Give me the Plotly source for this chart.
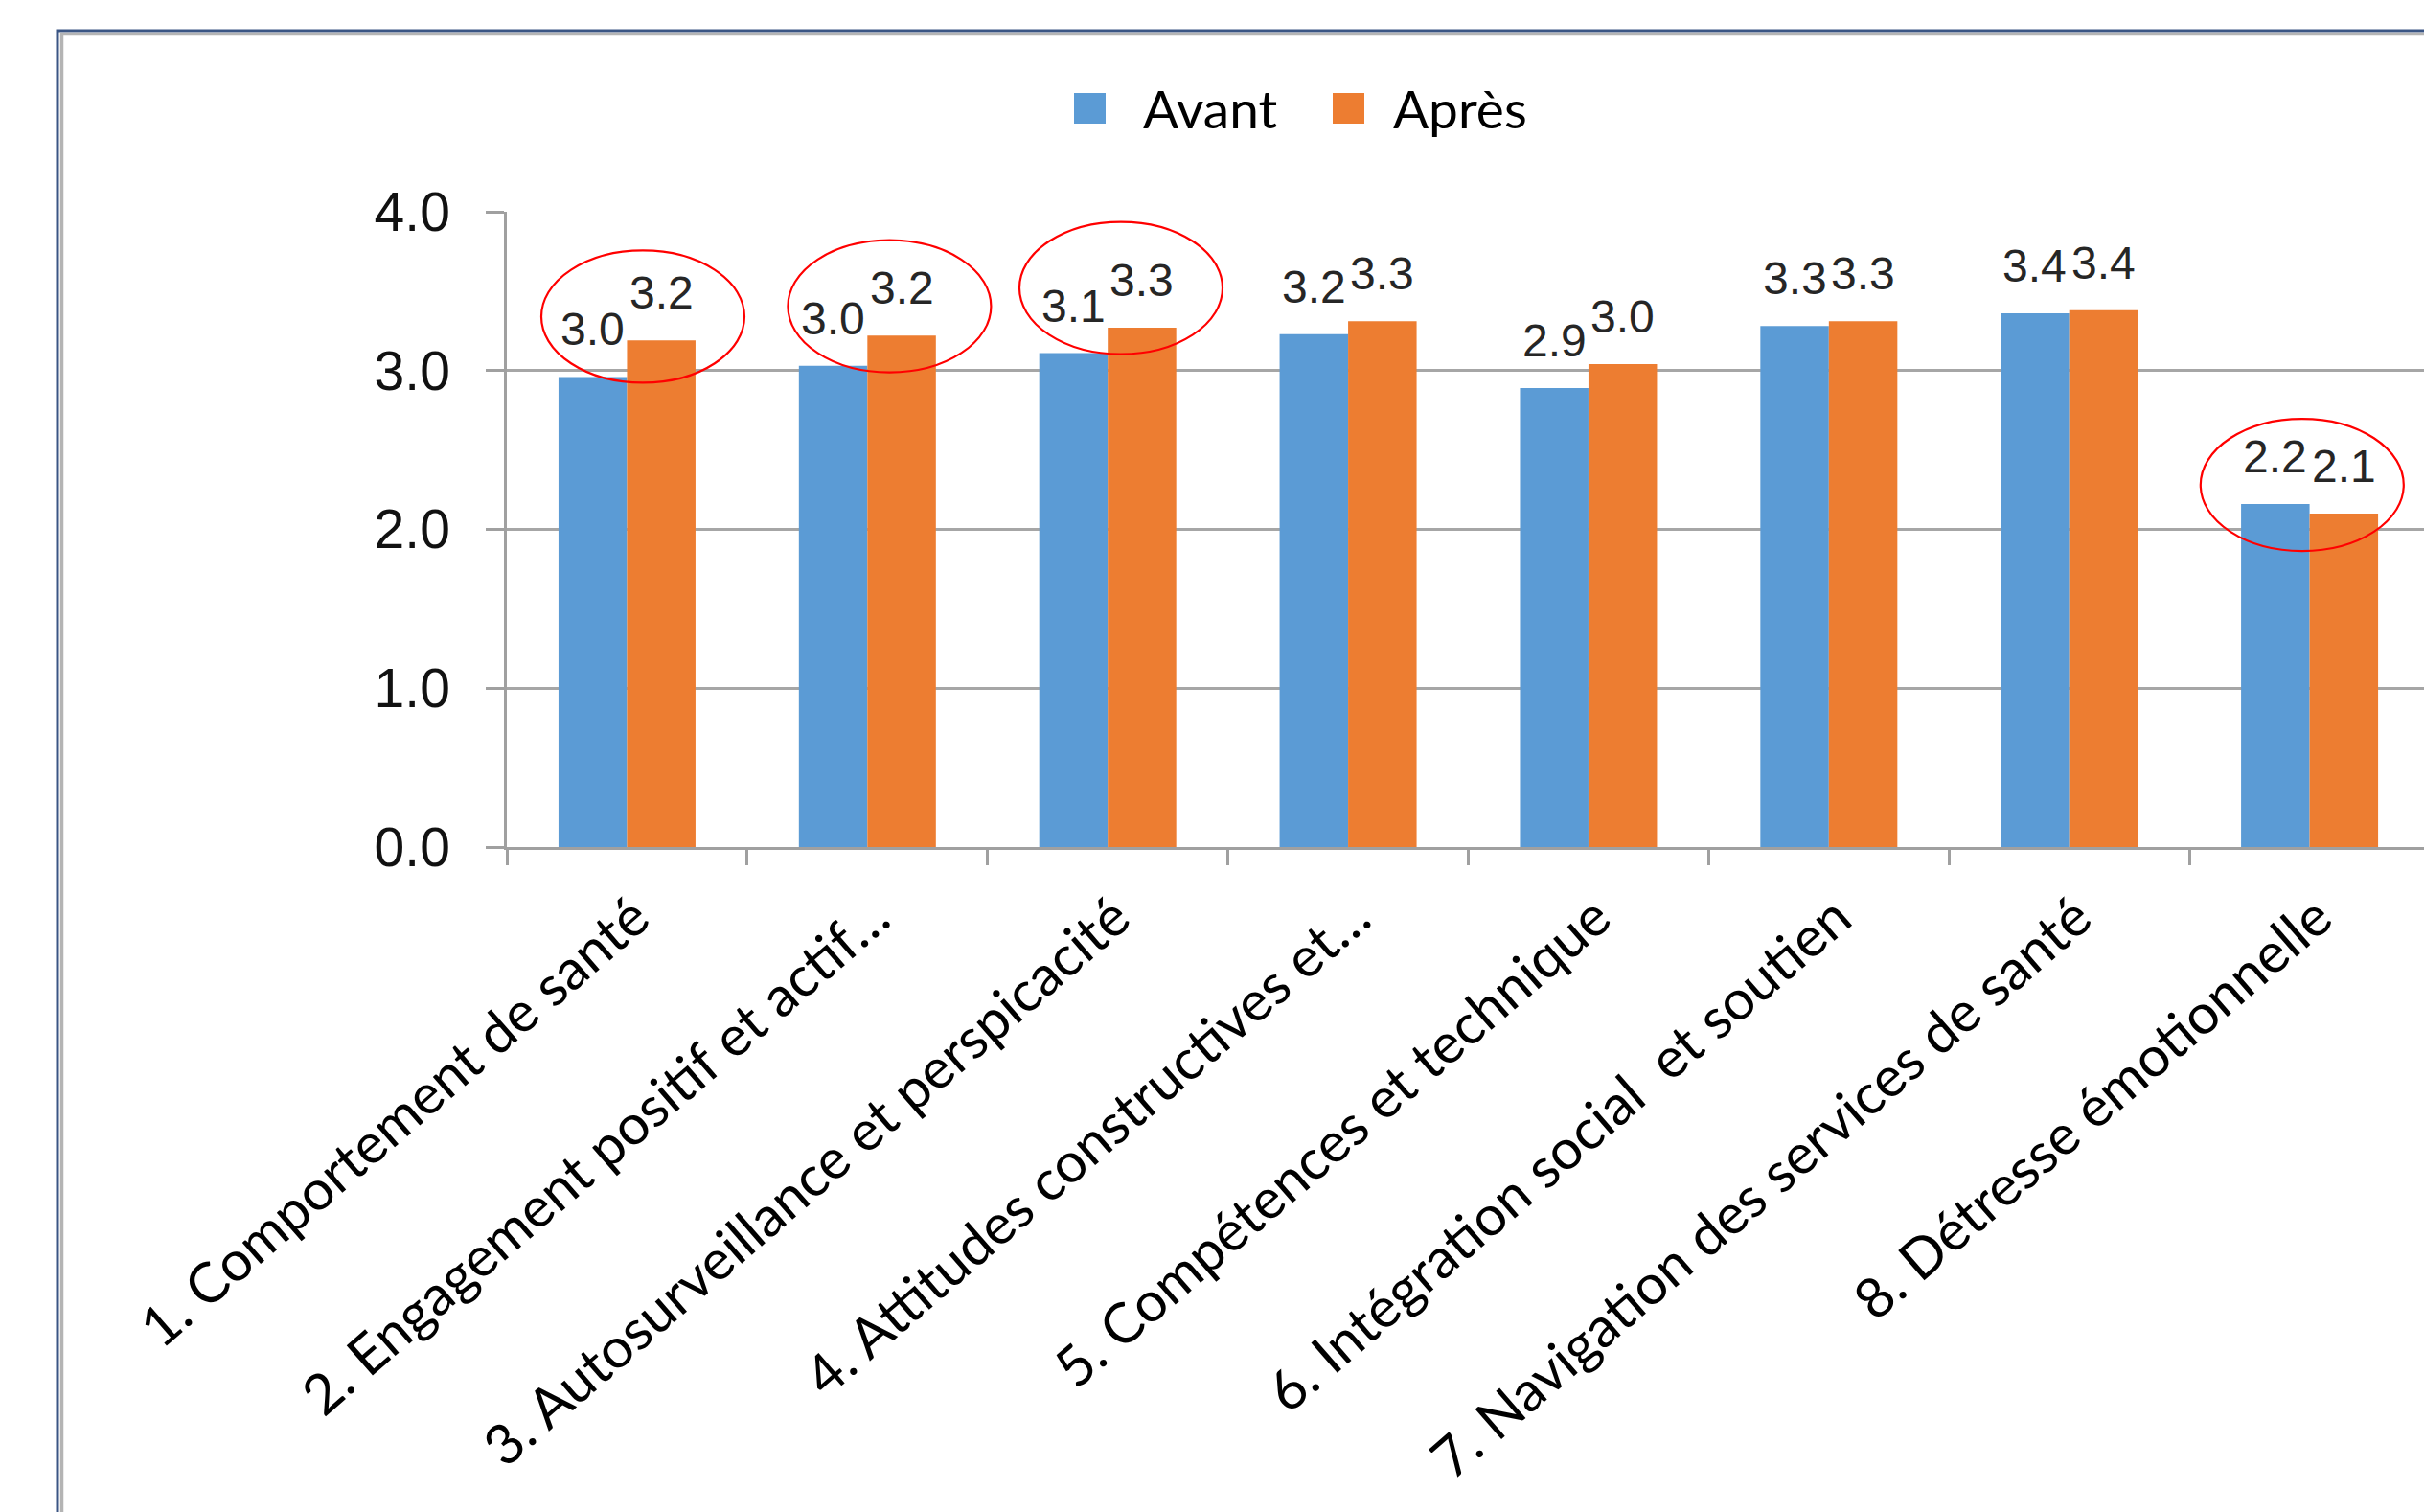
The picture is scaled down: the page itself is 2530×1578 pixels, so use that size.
import plotly.graph_objects as go

categories = [
    "1. Comportement de santé",
    "2. Engagement positif et actif…",
    "3. Autosurveillance et perspicacité",
    "4. Attitudes constructives et…",
    "5. Compétences et technique",
    "6. Intégration social\u00a0 et soutien",
    "7. Navigation des services de santé",
    "8. Détresse émotionnelle",
]
avant = [2.96, 3.03, 3.11, 3.23, 2.89, 3.28, 3.36, 2.16]
apres = [3.19, 3.22, 3.27, 3.31, 3.04, 3.31, 3.38, 2.10]
series_names = ["Avant", "Après"]
y_ticks = [0, 1, 2, 3, 4]

# highlighted categories (red ellipses)
highlight_idx = [0, 1, 2, 7]
ellipse_dx = [0.066, 0.092, 0.055, -0.031]
ellipse_dy = [0.15, 0.185, 0.25, 0.12]
ELL_W, ELL_H = 0.845, 0.833

BLUE = "#5B9BD5"
ORANGE = "#ED7D31"
W, H = 2530, 1578
L, T, B = 529, 221, 694
PW, PH = W - L, H - T - B
BARGAP = 0.43

def px_x(px):
    return (px - L) / PW

def px_y(py):
    return (H - B - py) / PH

fig = go.Figure()
series = [(series_names[0], avant, BLUE), (series_names[1], apres, ORANGE)]
for name, vals, col in series:
    fig.add_trace(go.Bar(
        x=categories, y=vals, name=name, marker=dict(color=col, line=dict(width=0)),
        showlegend=False,
    ))

annotations = []
# value labels, raised above bars like the original
bw = (1 - BARGAP) / len(series)
for k, (name, vals, col) in enumerate(series):
    off = (k - (len(series) - 1) / 2) * bw
    for i, v in enumerate(vals):
        annotations.append(dict(
            x=i + off, y=v, xref="x", yref="y", text=f"{v:.1f}", showarrow=False,
            xanchor="center", yanchor="bottom", yshift=21,
            font=dict(family="Liberation Sans, Arial", size=48, color="#262626")))

shapes = []
# red ellipses
for k, i in enumerate(highlight_idx):
    cy = max(avant[i], apres[i]) + ellipse_dy[k]
    cx = i + ellipse_dx[k]
    shapes.append(dict(type="circle", xref="x", yref="y",
                       x0=cx - ELL_W / 2, x1=cx + ELL_W / 2,
                       y0=cy - ELL_H / 2, y1=cy + ELL_H / 2,
                       line=dict(color="#FF0000", width=2.2), layer="above"))

# outer frame (double line)
shapes.append(dict(type="rect", xref="paper", yref="paper",
                   x0=px_x(60), x1=px_x(2600), y0=px_y(1650), y1=px_y(32),
                   line=dict(color="#3A5584", width=3), layer="above"))
shapes.append(dict(type="rect", xref="paper", yref="paper",
                   x0=px_x(64.5), x1=px_x(2600), y0=px_y(1650), y1=px_y(35.5),
                   line=dict(color="#B4B4B4", width=3.5), layer="above"))

# legend
legend_items = [(series_names[0], BLUE, 1121, 1191), (series_names[1], ORANGE, 1391, 1452)]
for name, col, sx, tx in legend_items:
    shapes.append(dict(type="rect", xref="paper", yref="paper",
                       x0=px_x(sx), x1=px_x(sx + 33), y0=px_y(129), y1=px_y(97),
                       fillcolor=col, line=dict(width=0)))
    annotations.append(dict(xref="paper", yref="paper", x=px_x(tx), y=px_y(113),
                            xanchor="left", yanchor="middle", showarrow=False,
                            text=name, font=dict(family="Lato, Carlito, Calibri", size=55, color="#000000")))

fig.update_layout(
    width=W, height=H,
    margin=dict(l=L, r=0, t=T, b=B, pad=0, autoexpand=False),
    paper_bgcolor="white", plot_bgcolor="white",
    barmode="group", bargap=BARGAP, bargroupgap=0,
    shapes=shapes, annotations=annotations,
    showlegend=False,
)
fig.update_xaxes(
    type="category", range=[-0.5, 7.476], automargin=False,
    showline=True, linecolor="#A0A0A0", linewidth=2.5,
    ticks="outside", tickson="boundaries", ticklen=16, tickcolor="#A0A0A0", tickwidth=2.5,
    showgrid=False, tickangle=-41,
    ticklabelstandoff=14, ticklabelshift=8,
    tickfont=dict(family="Lato, Carlito, Calibri", size=58, color="#000000"),
)
fig.update_yaxes(
    range=[0, 4], tickvals=y_ticks, tickformat=".1f", automargin=False,
    showline=True, linecolor="#A0A0A0", linewidth=2.5,
    ticks="outside", ticklen=19, tickcolor="#A0A0A0", tickwidth=2.5,
    showgrid=True, gridcolor="#A6A6A6", gridwidth=2.5, zeroline=False,
    ticklabelstandoff=26,
    tickfont=dict(family="Liberation Sans, Arial", size=57, color="#111111"),
)

fig.write_html("out.html")
